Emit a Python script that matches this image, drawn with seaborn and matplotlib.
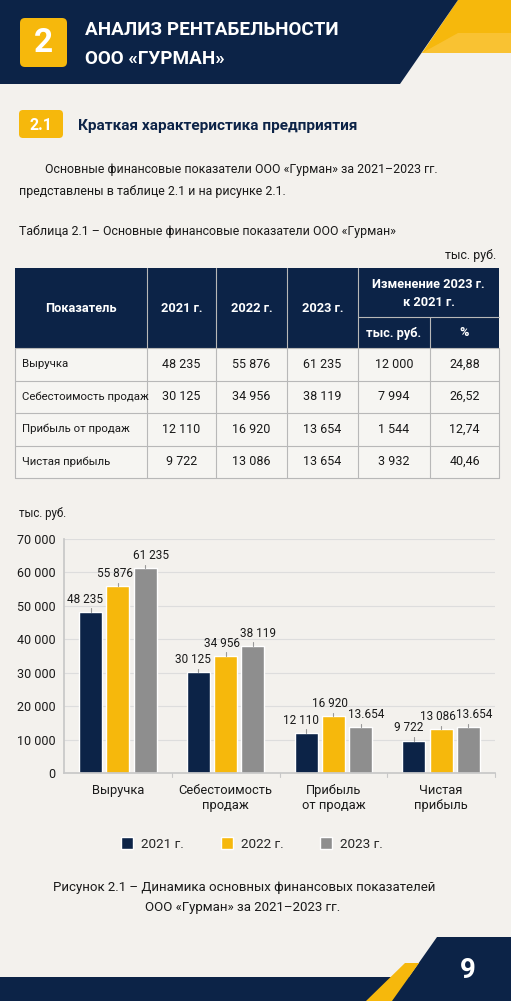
import matplotlib.pyplot as plt
import matplotlib.patches as mpatches
import seaborn as sns
import pandas as pd

# data
years = ['2021 г.', '2022 г.', '2023 г.']
indicators = ['Выручка', 'Себестоимость продаж', 'Прибыль от продаж', 'Чистая прибыль']
chart_labels = ['Выручка', 'Себестоимость\nпродаж', 'Прибыль\nот продаж', 'Чистая\nприбыль']
v2021 = [48235, 30125, 12110, 9722]
v2022 = [55876, 34956, 16920, 13086]
v2023 = [61235, 38119, 13654, 13654]
change_abs = [12000, 7994, 1544, 3932]
change_pct = [24.88, 26.52, 12.74, 40.46]
y_ticks = [0, 10000, 20000, 30000, 40000, 50000, 60000, 70000]
# value labels as printed on the chart (2023 small values are written with a dot there)
bar_text = [
    ['48 235', '30 125', '12 110', '9 722'],
    ['55 876', '34 956', '16 920', '13 086'],
    ['61 235', '38 119', '13.654', '13.654'],
]

NAVY = '#0c2347'
YELLOW = '#f6b80c'
GREY = '#8e8e8e'
BG = '#f3f1ed'
TXT = '#1a1a1a'

sns.set_theme(style='white')
plt.rcParams['font.family'] = ['Roboto', 'DejaVu Sans']


def fmt(v):
    return f'{v:,}'.replace(',', ' ')


fig = plt.figure(figsize=(5.11, 10.01), dpi=100, facecolor=BG)
bg = fig.add_axes([0, 0, 1, 1])
bg.set_xlim(0, 511)
bg.set_ylim(1001, 0)
bg.axis('off')
bg.set_facecolor(BG)

# header
bg.add_patch(mpatches.Polygon([(458, 0), (511, 0), (511, 53), (422, 53)], color=YELLOW, lw=0))
bg.add_patch(mpatches.Polygon([(458, 33), (511, 33), (511, 53), (422, 53)], color='#f9c232', lw=0))
bg.add_patch(mpatches.Polygon([(0, 0), (458, 0), (400, 84), (0, 84)], color=NAVY, lw=0))
bg.add_patch(mpatches.FancyBboxPatch((20, 18), 47, 49, boxstyle='round,pad=0,rounding_size=5',
                                     color=YELLOW, lw=0))
bg.text(43.5, 43, '2', color='white', fontsize=24, fontweight='bold', ha='center', va='center')
bg.text(85, 30, 'АНАЛИЗ РЕНТАБЕЛЬНОСТИ', color='white', fontsize=13.6, fontweight='bold', va='center')
bg.text(85, 59, 'ООО «ГУРМАН»', color='white', fontsize=13.6, fontweight='bold', va='center')

# section
bg.add_patch(mpatches.FancyBboxPatch((19, 110), 44, 28, boxstyle='round,pad=0,rounding_size=4',
                                     color=YELLOW, lw=0))
bg.text(41, 125, '2.1', color='white', fontsize=11.5, fontweight='bold', ha='center', va='center')
bg.text(78, 126, 'Краткая характеристика предприятия', color=NAVY, fontsize=11.1,
        fontweight='bold', va='center')

bg.text(45, 170, 'Основные финансовые показатели ООО «Гурман» за 2021–2023 гг.',
        color=TXT, fontsize=8.9, va='center')
bg.text(19, 191, 'представлены в таблице 2.1 и на рисунке 2.1.', color=TXT, fontsize=8.9, va='center')
bg.text(19, 231, 'Таблица 2.1 – Основные финансовые показатели ООО «Гурман»',
        color=TXT, fontsize=8.9, va='center')
bg.text(496, 255, 'тыс. руб.', color=TXT, fontsize=8.9, va='center', ha='right')

# table
cols = [15, 147, 216, 287, 358, 430, 499]
top, mid, hbot = 268, 317, 348
row_h = 32.5
bg.add_patch(mpatches.Rectangle((15, top), 484, hbot - top, color=NAVY, lw=0))
n_rows = len(indicators)
tbot = hbot + row_h * n_rows
bg.add_patch(mpatches.Rectangle((15, hbot), 484, tbot - hbot, facecolor='#f6f5f2', lw=0))
line_kw = dict(color='#b8b8b8', lw=0.8)
for x in cols[1:-1]:
    bg.plot([x, x], [top if x != 430 else mid, tbot], **line_kw)
bg.plot([358, 499], [mid, mid], **line_kw)
for i in range(n_rows + 1):
    y = hbot + i * row_h
    bg.plot([15, 499], [y, y], **line_kw)
bg.plot([15, 15], [hbot, tbot], **line_kw)
bg.plot([499, 499], [hbot, tbot], **line_kw)

hkw = dict(color='white', fontsize=9.2, fontweight='bold', ha='center', va='center')
cx = [(cols[i] + cols[i + 1]) / 2 for i in range(6)]
bg.text(cx[0], 308, 'Показатель', **hkw)
for j, yr in enumerate(years):
    bg.text(cx[j + 1], 308, yr, **hkw)
bg.text((358 + 499) / 2, 293, 'Изменение 2023 г.\nк 2021 г.', linespacing=1.5, **hkw)
bg.text(cx[4], 333, 'тыс. руб.', **hkw)
bg.text(cx[5], 333, '%', **hkw)

for i, name in enumerate(indicators):
    y = hbot + (i + 0.5) * row_h
    bg.text(22, y, name, color=TXT, fontsize=8.2, va='center')
    vals = [fmt(v2021[i]), fmt(v2022[i]), fmt(v2023[i]), fmt(change_abs[i]),
            f'{change_pct[i]:.2f}'.replace('.', ',')]
    for j, s in enumerate(vals):
        bg.text(cx[j + 1], y, s, ha='center', color=TXT, fontsize=9, va='center')

# chart
bg.text(19, 513, 'тыс. руб.', color=TXT, fontsize=8.3, va='center')
df = pd.DataFrame({
    'Показатель': chart_labels * 3,
    'Год': [y for y in years for _ in chart_labels],
    'Значение': v2021 + v2022 + v2023,
})
ax = fig.add_axes([64 / 511, (1001 - 773) / 1001, (495 - 64) / 511, (773 - 539) / 1001])
ax.set_facecolor('none')
sns.barplot(data=df, x='Показатель', y='Значение', hue='Год', palette=[NAVY, YELLOW, GREY],
            width=0.76, gap=0.16, saturation=1, ax=ax, errorbar=None, legend=True)
ax.set_ylim(0, 70000)
ax.set_xlim(-0.5, 3.5)
ax.set_yticks(y_ticks)
ax.set_yticklabels([fmt(t) for t in y_ticks], fontsize=9, color=TXT)
ax.yaxis.grid(True, color='#dddddd', lw=0.8)
ax.set_axisbelow(True)
for s in ['top', 'right']:
    ax.spines[s].set_visible(False)
ax.spines['left'].set_color('#c8c8c8')
ax.spines['bottom'].set_color('#c8c8c8')
ax.tick_params(axis='y', length=0, pad=6)
ax.tick_params(axis='x', length=0, pad=8, labelsize=9.3, labelcolor=TXT)
ax.set_xlabel('')
ax.set_ylabel('')
for b in [0.5, 1.5, 2.5, 3.5]:
    ax.plot([b, b], [0, -1200], color='#c8c8c8', lw=0.8, clip_on=False)

# labels spread slightly sideways so neighbouring values don't collide
shift = [-0.05, -0.03, 0.05]
for k, cont in enumerate(ax.containers):
    for i, bar in enumerate(cont):
        h = bar.get_height()
        xc = bar.get_x() + bar.get_width() / 2
        ax.plot([xc, xc], [h, h + 1100], color='#999999', lw=0.8)
        ax.text(xc + shift[k], h + 1800, bar_text[k][i], ha='center', va='bottom',
                fontsize=8.5, color=TXT)

handles, labels = ax.get_legend_handles_labels()
ax.legend_.remove()
fig.legend(handles, labels, loc='center', bbox_to_anchor=(252 / 511, 1 - 844 / 1001), ncol=3,
           frameon=False, fontsize=9.7, handlelength=0.9, handleheight=0.9,
           columnspacing=2.7, handletextpad=0.6)

bg.text(244, 887, 'Рисунок 2.1 – Динамика основных финансовых показателей', color=TXT,
        fontsize=9.5, ha='center', va='center')
bg.text(243, 908, 'ООО «Гурман» за 2021–2023 гг.', color=TXT, fontsize=9.5,
        ha='center', va='center')

# footer
bg.add_patch(mpatches.Rectangle((0, 977), 511, 24, color=NAVY, lw=0))
bg.add_patch(mpatches.Polygon([(437, 937), (511, 937), (511, 1001), (392, 1001)], color=NAVY, lw=0))
bg.add_patch(mpatches.Polygon([(405, 963), (419, 963), (392, 1001), (366, 1001)], color=YELLOW, lw=0))
bg.text(468, 970, '9', color='white', fontsize=20, fontweight='bold', ha='center', va='center')

fig.savefig('out.png', dpi=100, facecolor=BG)
